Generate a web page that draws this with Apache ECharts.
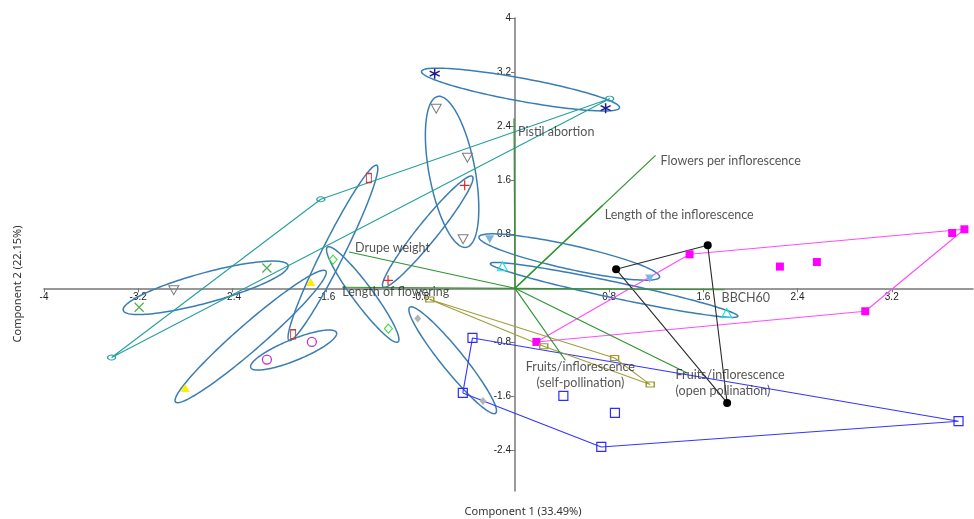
<!DOCTYPE html>
<html>
<head>
<meta charset="utf-8">
<script src="https://cdn.jsdelivr.net/npm/echarts@6/dist/echarts.min.js"></script>
<style>
html,body{margin:0;padding:0;background:#fff}
#chart{width:974px;height:519px}
</style>
</head>
<body>
<div id="chart"></div>
<script>
// ---- axis ticks ----
const xTicks = [-4, -3.2, -2.4, -1.6, -0.8, 0.8, 1.6, 2.4, 3.2];
const yTicks = [-2.4, -1.6, -0.8, 0.8, 1.6, 2.4, 3.2, 4];

// ---- PCA scores per group (Component 1, Component 2) ----
const navyStar      = [[-0.682, 3.176], [0.770, 2.666]];
const greyTriDown   = [[-0.669, 2.658], [-0.404, 1.933], [-0.441, 0.725]];
const redPlus       = [[-0.427, 1.524], [-1.078, 0.118]];
const darkRedBar    = [[-1.241, 1.632], [-1.884, -0.680]];
const greyDiamond   = [[-0.826, -0.448], [-0.272, -1.667]];
const greenDiamond  = [[-1.545, 0.425], [-1.075, -0.596]];
const yellowTri     = [[-1.734, 0.093], [-2.801, -1.475]];
const purpleCircle  = [[-2.107, -1.055], [-1.725, -0.794]];
const greenCross    = [[-2.107, 0.300], [-3.192, -0.281]];
const greyTriSingle = [[-2.898, -0.030]];
const blueTriDown   = [[-0.215, 0.725], [1.144, 0.143]];
const cyanTri       = [[-0.107, 0.325], [1.798, -0.365]];
const magentaSquare = [[0.182, -0.794], [1.483, 0.503], [2.250, 0.321], [2.564, 0.389], [2.975, -0.340], [3.713, 0.818], [3.817, 0.873]];
const blackDot      = [[0.859, 0.281], [1.637, 0.636], [1.802, -1.697]];
const blueSquare    = [[-0.361, -0.735], [-0.443, -1.549], [0.733, -2.348], [0.411, -1.593], [0.849, -1.845], [3.767, -1.967]];
const oliveBar      = [[-0.724, -0.167], [0.244, -0.858], [0.846, -1.031], [1.149, -1.425]];
const tealMark      = [[-1.649, 1.317], [-3.426, -1.025], [0.804, 2.806]];

// ---- 95% ellipses: centre, end of major semi-axis, end of minor semi-axis ----
const ellipseCentre = [[0.047, 2.941], [-0.534, 1.723], [-0.741, 0.838], [-1.546, 0.525], [-0.529, -1.065], [-1.293, -0.092], [-2.245, -0.713], [-1.880, -0.914], [-2.627, 0.007], [0.461, 0.463], [0.842, -0.024]];
const ellipseMajorEnd = [[0.888, 2.672], [-0.413, 0.607], [-0.362, 1.657], [-1.174, 1.820], [-0.164, -1.849], [-0.993, -0.794], [-1.607, 0.256], [-1.516, -0.655], [-1.927, 0.340], [1.228, 0.167], [1.893, -0.414]];
const ellipseMinorEnd = [[0.029, 2.774], [-0.726, 1.660], [-0.675, 0.745], [-1.463, 0.452], [-0.601, -1.168], [-1.361, -0.180], [-2.172, -0.858], [-1.846, -1.058], [-2.594, -0.207], [0.439, 0.290], [0.828, -0.140]];

// ---- loadings (biplot vectors) ----
const vectorNames = ['Pistil abortion', 'Flowers per inflorescence', 'Length of the inflorescence', 'BBCH60', 'Drupe weight', 'Length of flowering', 'Fruits/inflorescence\n(self-pollination)', 'Fruits/inflorescence\n(open pollination)'];
const vectorX = [-0.008, 1.194, 0.745, 1.780, -1.409, -1.467, 0.428, 1.466];
const vectorY = [2.515, 1.967, 1.228, -0.022, 0.537, 0.015, -1.065, -1.257];

// label placement relative to each vector tip (px)
const labelPlace = [
  {pos: [4, 14], align: 'left'},
  {pos: [5, 6], align: 'left'},
  {pos: [2, 10], align: 'left'},
  {pos: [-3, 8], align: 'left'},
  {pos: [6, -4], align: 'left'},
  {pos: [0, 5], align: 'left'},
  {pos: [15, 15], align: 'center'},
  {pos: [-12, 10], align: 'left'}
];

// convex hull (monotone chain), returned closed
function hull(pts) {
  const p = pts.slice().sort((a, b) => a[0] - b[0] || a[1] - b[1]);
  const cross = (o, a, b) => (a[0] - o[0]) * (b[1] - o[1]) - (a[1] - o[1]) * (b[0] - o[0]);
  const lower = [], upper = [];
  for (const q of p) { while (lower.length >= 2 && cross(lower[lower.length - 2], lower[lower.length - 1], q) <= 0) lower.pop(); lower.push(q); }
  for (let i = p.length - 1; i >= 0; i--) { const q = p[i]; while (upper.length >= 2 && cross(upper[upper.length - 2], upper[upper.length - 1], q) <= 0) upper.pop(); upper.push(q); }
  const h = lower.slice(0, -1).concat(upper.slice(0, -1));
  h.push(h[0]);
  return h;
}

const series = [];

// confidence ellipses
series.push({
  type: 'custom',
  data: ellipseCentre.map((c, i) => [c[0], c[1], ellipseMajorEnd[i][0], ellipseMajorEnd[i][1], ellipseMinorEnd[i][0], ellipseMinorEnd[i][1]]),
  encode: {x: 0, y: 1},
  z: 2,
  silent: true,
  renderItem(params, api) {
    const c = api.coord([api.value(0), api.value(1)]);
    const t = api.coord([api.value(2), api.value(3)]);
    const m = api.coord([api.value(4), api.value(5)]);
    const ux = t[0] - c[0], uy = t[1] - c[1];
    const len = Math.hypot(ux, uy);
    const nx = -uy / len, ny = ux / len;
    const w = (m[0] - c[0]) * nx + (m[1] - c[1]) * ny;
    const vx = nx * w, vy = ny * w;
    const pts = [];
    for (let k = 0; k < 144; k++) {
      const a = k / 144 * Math.PI * 2;
      pts.push([c[0] + Math.cos(a) * ux + Math.sin(a) * vx, c[1] + Math.cos(a) * uy + Math.sin(a) * vy]);
    }
    return {type: 'polygon', shape: {points: pts}, style: {fill: null, stroke: '#3b7db3', lineWidth: 1.5}};
  }
});

// convex hulls
const hulls = [
  [tealMark, '#24a19c'],
  [magentaSquare, '#ff4cff'],
  [blackDot, '#2a2a2a'],
  [blueSquare, '#3535ff'],
  [oliveBar, '#a09e3c']
];
hulls.forEach(([pts, col]) => {
  series.push({
    type: 'line', data: hull(pts), showSymbol: false, symbol: 'none', silent: true, z: 3,
    lineStyle: {color: col, width: 1.1}
  });
});

// loading vectors
vectorNames.forEach((n, i) => {
  series.push({
    type: 'line', data: [[0, 0], [vectorX[i], vectorY[i]]], symbol: 'none', silent: true, z: 4,
    lineStyle: {color: '#2f952f', width: 1.2}
  });
});

// vector labels
series.push({
  type: 'scatter', symbolSize: 0, silent: true, z: 10,
  data: vectorNames.map((n, i) => ({
    value: [vectorX[i], vectorY[i]], name: n,
    label: {show: true, position: labelPlace[i].pos, align: labelPlace[i].align, verticalAlign: 'middle'}
  })),
  label: {
    formatter: p => p.name, color: '#2b2b2b', fontSize: 12.5, fontFamily: 'Lato, "Open Sans", sans-serif', lineHeight: 16
  }
});

// group markers
const TRI_DOWN = 'path://M0 0L10 0L5 8.66Z';
const markers = [
  [navyStar, 'path://M5 0L5 10M0.67 2.5L9.33 7.5M0.67 7.5L9.33 2.5', 10, 'transparent', '#1d1d8c', 1.5],
  [greyTriDown, TRI_DOWN, [10, 9], 'transparent', '#7c7c7c', 1],
  [greyTriSingle, TRI_DOWN, [10, 9], 'transparent', '#7c7c7c', 1],
  [redPlus, 'path://M5 0L5 10M0 5L10 5', 10, 'transparent', '#e62626', 1.2],
  [darkRedBar, 'rect', [5, 9], 'transparent', '#c43a36', 1.2],
  [greyDiamond, 'diamond', [7, 8], '#b4b4b4', '#b4b4b4', 0],
  [greenDiamond, 'diamond', [8, 9], 'transparent', '#3fdc3f', 1.1],
  [yellowTri, 'triangle', [9, 8], '#ffee00', '#ffee00', 0],
  [purpleCircle, 'circle', 9, 'transparent', '#c038c0', 1.3],
  [greenCross, 'path://M0 0L10 10M0 10L10 0', 9, 'transparent', '#4fae4f', 1.2],
  [blueTriDown, TRI_DOWN, [9, 8], '#7fb3e6', '#7fb3e6', 0],
  [cyanTri, 'triangle', [10, 9], 'transparent', '#20dede', 1.1],
  [magentaSquare, 'rect', 8, '#ff00ff', '#ff00ff', 0],
  [blackDot, 'circle', 8, '#000', '#000', 0],
  [blueSquare, 'rect', 9, 'transparent', '#2d2dff', 1.2],
  [oliveBar, 'rect', [8, 5], 'transparent', '#9c9a30', 1.2],
  [tealMark, 'circle', [8, 5], 'transparent', '#2aa09c', 1.1]
];
markers.forEach(([pts, sym, size, fill, stroke, bw]) => {
  series.push({
    type: 'scatter', data: pts, symbol: sym, symbolSize: size, z: 8, silent: true,
    itemStyle: {color: fill, borderColor: stroke, borderWidth: bw, opacity: 1}
  });
});

const tickFmt = v => (Math.abs(v) === 4 ? String(v) : v.toFixed(1));
const axisCommon = {
  type: 'value',
  axisLine: {onZero: false, lineStyle: {color: '#777', width: 1.5}},
  splitLine: {show: false},
  axisLabel: {fontSize: 10, color: '#222', fontFamily: '"Liberation Sans", Arial, sans-serif', formatter: tickFmt, margin: 4},
  axisTick: {length: 4, lineStyle: {color: '#777', width: 1}}
};

const chart = echarts.init(document.getElementById('chart'), null, {renderer: 'canvas'});
const grid = {left: 44, right: 1, top: 18, bottom: 28, containLabel: false, outerBoundsMode: 'none'};
chart.setOption({
  animation: false,
  backgroundColor: '#fff',
  grid: grid,
  xAxis: Object.assign({}, axisCommon, {
    position: 'bottom', min: -4, max: 3.89,
    axisTick: Object.assign({}, axisCommon.axisTick, {customValues: xTicks}),
    axisLabel: Object.assign({}, axisCommon.axisLabel, {customValues: xTicks})
  }),
  yAxis: Object.assign({}, axisCommon, {
    position: 'left', min: -3, max: 4,
    axisTick: Object.assign({}, axisCommon.axisTick, {customValues: yTicks}),
    axisLabel: Object.assign({}, axisCommon.axisLabel, {customValues: yTicks})
  }),
  graphic: [
    {type: 'text', x: 523, y: 512, style: {text: 'Component 1 (33.49%)', fill: '#333', font: '11px "Noto Sans", sans-serif', align: 'center', verticalAlign: 'middle'}},
    {type: 'text', x: 18, y: 284, rotation: Math.PI / 2, style: {text: 'Component 2 (22.15%)', fill: '#333', font: '11px "Noto Sans", sans-serif', align: 'center', verticalAlign: 'middle'}}
  ],
  series: series
});

// move both axes (line, ticks and labels) so they cross at the origin
const origin = chart.convertToPixel({gridIndex: 0}, [0, 0]);
chart.setOption({
  xAxis: {offset: -(519 - grid.bottom - origin[1])},
  yAxis: {offset: -(origin[0] - grid.left)}
});
</script>
</body>
</html>
